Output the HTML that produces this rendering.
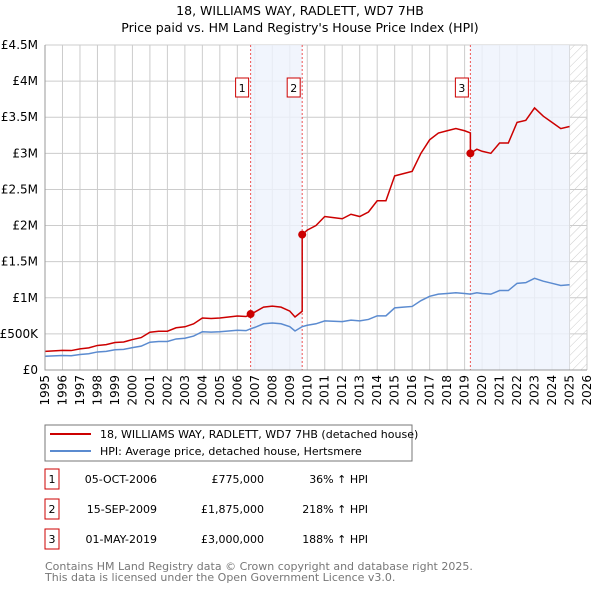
<!DOCTYPE html>
<html><head><meta charset="utf-8"><style>
body{margin:0;background:#fff;font-family:"Liberation Sans","DejaVu Sans",sans-serif;}
svg text{font-family:"DejaVu Sans","Liberation Sans",sans-serif;}
</style></head><body>
<svg id="c" width="600" height="590" xmlns="http://www.w3.org/2000/svg">
<defs><pattern id="hatch" width="6" height="6" patternUnits="userSpaceOnUse" patternTransform="rotate(45)"><line x1="0" y1="0" x2="0" y2="6" stroke="#ccc" stroke-width="1"/></pattern></defs>
<text x="300" y="15" text-anchor="middle" font-size="12.5">18, WILLIAMS WAY, RADLETT, WD7 7HB</text>
<text x="300" y="32" text-anchor="middle" font-size="12.5">Price paid vs. HM Land Registry's House Price Index (HPI)</text>
<g id="grid"></g><g id="shade"></g><g id="series"></g><g id="axes"></g>
<rect x="45" y="425" width="367" height="36" fill="#fff" stroke="#777"/>
<line x1="50" y1="434" x2="91" y2="434" stroke="#cc0000" stroke-width="2"/>
<text x="100" y="438" font-size="11">18, WILLIAMS WAY, RADLETT, WD7 7HB (detached house)</text>
<line x1="50" y1="451" x2="91" y2="451" stroke="#5b8bd0" stroke-width="2"/>
<text x="100" y="455" font-size="11">HPI: Average price, detached house, Hertsmere</text>
<g id="table" font-size="11"></g>
<text x="45" y="570" font-size="11" fill="#777">Contains HM Land Registry data © Crown copyright and database right 2025.</text>
<text x="45" y="581" font-size="11" fill="#777">This data is licensed under the Open Government Licence v3.0.</text>
</svg>
<script>
const hpiYears=[1995,1995.5,1996,1996.5,1997,1997.5,1998,1998.5,1999,1999.5,2000,2000.5,2001,2001.5,2002,2002.5,2003,2003.5,2004,2004.5,2005,2005.5,2006,2006.5,2006.76,2007,2007.5,2008,2008.5,2009,2009.3,2009.71,2010,2010.5,2011,2011.5,2012,2012.5,2013,2013.5,2014,2014.5,2015,2015.5,2016,2016.5,2017,2017.5,2018,2018.5,2019,2019.33,2019.7,2020,2020.5,2021,2021.5,2022,2022.5,2023,2023.5,2024,2024.5,2025];
const hpiValues=[190,195,200,198,215,225,250,258,280,285,310,330,385,395,395,430,440,470,530,525,530,540,550,545,570,590,640,650,640,600,540,600,620,640,680,675,670,690,680,700,750,750,860,870,880,960,1020,1050,1060,1070,1060,1050,1070,1060,1050,1100,1100,1200,1210,1270,1230,1200,1170,1180];
const saleDates=[2006.76,2009.71,2019.33];
const salePrices=[775,1875,3000];
const saleLabels=["1","2","3"];
const saleDateText=["05-OCT-2006","15-SEP-2009","01-MAY-2019"];
const salePriceText=["£775,000","£1,875,000","£3,000,000"];
const saleHpiText=["36% ↑ HPI","218% ↑ HPI","188% ↑ HPI"];
const yTicks=[0,500,1000,1500,2000,2500,3000,3500,4000,4500];
const yTickLabels=["£0","£500K","£1M","£1.5M","£2M","£2.5M","£3M","£3.5M","£4M","£4.5M"];
const xStart=1995,xEnd=2026;

const NS="http://www.w3.org/2000/svg";
const L=45,R=587,T=45,B=370;
const X=v=>L+(v-xStart)/(xEnd-xStart)*(R-L);
const Y=v=>B-v/4500*(B-T);
function mk(tag,attrs,parent,txt){const e=document.createElementNS(NS,tag);for(const k in attrs)e.setAttribute(k,attrs[k]);if(txt!==undefined)e.textContent=txt;document.getElementById(parent).appendChild(e);return e;}
function hpiAt(t){for(let i=0;i<hpiYears.length-1;i++){if(t>=hpiYears[i]&&t<=hpiYears[i+1]){const f=(t-hpiYears[i])/(hpiYears[i+1]-hpiYears[i]);return hpiValues[i]+f*(hpiValues[i+1]-hpiValues[i]);}}return hpiValues[hpiValues.length-1];}

// grid
for(let y=xStart;y<=xEnd;y++){const l=mk('line',{x1:X(y),x2:X(y),y1:T,y2:B,stroke:'#ccc','stroke-width':1},'grid');

}
yTicks.forEach((v,i)=>{const l=mk('line',{x1:L,x2:R,y1:Y(v),y2:Y(v),stroke:'#ccc','stroke-width':1},'grid');


const t=mk('text',{x:L-7,y:Y(v)+4,'text-anchor':'end','font-size':12},'axes',yTickLabels[i]);

});
for(let y=xStart;y<=xEnd;y++){const t=mk('text',{x:0,y:0,'text-anchor':'end','font-size':12,transform:`translate(${X(y)+4},${B+5}) rotate(-90)`},'axes',String(y));

}
// shading
const s1=mk('rect',{x:X(saleDates[0]),y:T,width:X(saleDates[1])-X(saleDates[0]),height:B-T,fill:'#eef3fc',opacity:0.8},'shade');


const s2=mk('rect',{x:X(saleDates[2]),y:T,width:X(2025)-X(saleDates[2]),height:B-T,fill:'#eef3fc',opacity:0.8},'shade');


const h=mk('rect',{x:X(2025),y:T,width:R-X(2025),height:B-T,fill:'url(#hatch)'},'shade');


saleDates.forEach((d,i)=>{const l=mk('line',{x1:X(d),x2:X(d),y1:T,y2:B,stroke:'#e55','stroke-width':1,'stroke-dasharray':'2,2'},'shade');


const r=mk('rect',{x:X(d)-15,y:78,width:13,height:19,fill:'#fff',stroke:'#cc0000'},'shade');


const t=mk('text',{x:X(d)-8.5,y:92,'text-anchor':'middle','font-size':11},'shade',saleLabels[i]);

});
// axes lines
const ax=mk('path',{d:`M${L},${T}V${B}H${R}`,fill:'none',stroke:'#999'},'axes');


// hpi line
const hp=mk('polyline',{points:hpiYears.map((t,i)=>X(t)+','+Y(hpiValues[i])).join(' '),fill:'none',stroke:'#5b8bd0','stroke-width':1.5},'series');


// property line: HPI scaled from each sale
let pts=[];
const ratio=i=>salePrices[i]/hpiAt(saleDates[i]);
hpiYears.forEach((t,i)=>{let k=0;for(let j=0;j<saleDates.length;j++)if(t>=saleDates[j])k=j;
if(t<saleDates[0])k=0;
if(saleDates.includes(t)){const j=saleDates.indexOf(t);if(j>0)pts.push(X(t)+','+Y(hpiAt(t-0.01)*ratio(j-1)));}
pts.push(X(t)+','+Y(hpiValues[i]*ratio(k)));});
const pl=mk('polyline',{points:pts.join(' '),fill:'none',stroke:'#cc0000','stroke-width':1.5},'series');


saleDates.forEach((d,i)=>{const m=mk('circle',{cx:X(d),cy:Y(salePrices[i]),r:4,fill:'#cc0000'},'series');

});
// table
saleDates.forEach((d,i)=>{const y=483+i*30;
const r=mk('rect',{x:45,y:y-14,width:14,height:20,fill:'none',stroke:'#cc0000'},'table');


const a=mk('text',{x:52,y:y,'text-anchor':'middle'},'table',saleLabels[i]);


const b=mk('text',{x:157,y:y,'text-anchor':'end'},'table',saleDateText[i]);


const c=mk('text',{x:264,y:y,'text-anchor':'end'},'table',salePriceText[i]);


const e=mk('text',{x:368,y:y,'text-anchor':'end'},'table',saleHpiText[i]);

});
</script>
</body></html>
